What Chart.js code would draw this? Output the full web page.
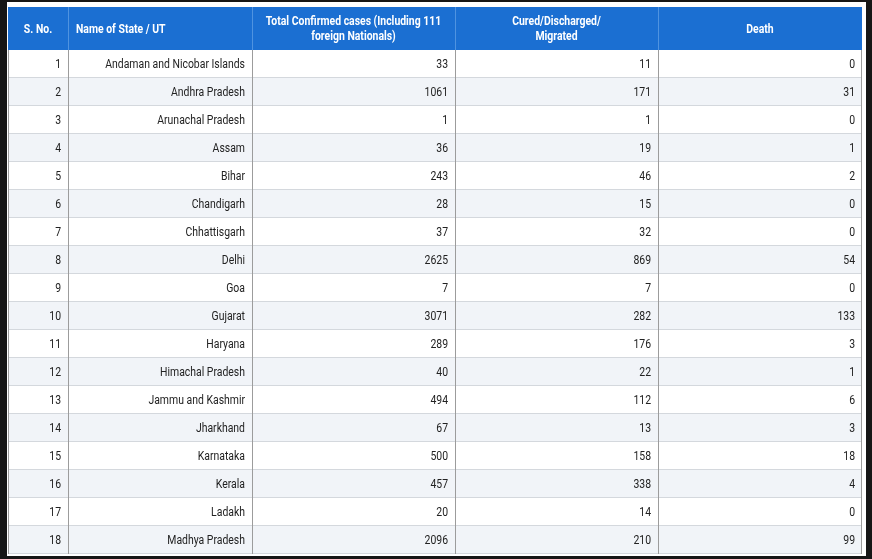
<!DOCTYPE html>
<html>
<head>
<meta charset="utf-8">
<script src="https://cdn.jsdelivr.net/npm/chart.js@4.4.0/dist/chart.umd.min.js"></script>
<style>
    html, body { margin: 0; padding: 0; background: #161616; }
    #wrap { width: 872px; height: 559px; }
</style>
</head>
<body>
<div id="wrap"><canvas id="stateTable" width="872" height="559"></canvas></div>
<script>
(function () {
    'use strict';

    // table content
    const headers = [
        ['S. No.'],
        ['Name of State / UT'],
        ['Total Confirmed cases (Including 111', 'foreign Nationals)'],
        ['Cured/Discharged/', 'Migrated'],
        ['Death']
    ];
    const serials = [1, 2, 3, 4, 5, 6, 7, 8, 9, 10, 11, 12, 13, 14, 15, 16, 17, 18];
    const states = [
        'Andaman and Nicobar Islands', 'Andhra Pradesh', 'Arunachal Pradesh', 'Assam',
        'Bihar', 'Chandigarh', 'Chhattisgarh', 'Delhi', 'Goa', 'Gujarat', 'Haryana',
        'Himachal Pradesh', 'Jammu and Kashmir', 'Jharkhand', 'Karnataka', 'Kerala',
        'Ladakh', 'Madhya Pradesh'
    ];
    const confirmed = [33, 1061, 1, 36, 243, 28, 37, 2625, 7, 3071, 289, 40, 494, 67, 500, 457, 20, 2096];
    const cured = [11, 171, 1, 19, 46, 15, 32, 869, 7, 282, 176, 22, 112, 13, 158, 338, 14, 210];
    const deaths = [0, 31, 0, 1, 2, 0, 0, 54, 0, 133, 3, 1, 6, 3, 18, 4, 0, 99];

    // layout (table units)
    const colWidths = [60, 184, 203, 203, 204];
    const headerHeight = 43;
    const rowHeight = 28;
    const textSquash = 0.87;

    const columns = [serials, states, confirmed, cured, deaths];
    const colEdges = [0];
    colWidths.forEach(w => colEdges.push(colEdges[colEdges.length - 1] + w));
    const tableWidth = colEdges[colEdges.length - 1];
    const tableHeight = headerHeight + rowHeight * states.length;

    function drawText(ctx, text, x, y, align) {
        ctx.save();
        ctx.translate(x, y);
        ctx.scale(textSquash, 1);
        ctx.textAlign = align;
        ctx.fillText(text, 0, 0);
        ctx.restore();
    }

    const tablePlugin = {
        id: 'tablePlugin',
        beforeDraw(chart) {
            const ctx = chart.ctx;
            ctx.save();
            ctx.fillStyle = '#161616';
            ctx.fillRect(0, 0, chart.width, chart.height);
            ctx.fillStyle = '#ffffff';
            ctx.fillRect(7, 2, 859, 554);
            ctx.restore();
        },
        afterDraw(chart) {
            const ctx = chart.ctx;
            const xs = chart.scales.x;
            const ys = chart.scales.y;
            const px = v => Math.round(xs.getPixelForValue(v));
            const py = v => Math.round(ys.getPixelForValue(v));
            const left = px(0), right = px(tableWidth);
            const top = py(0), headBottom = py(headerHeight), bottom = py(tableHeight);

            ctx.save();

            // header
            ctx.fillStyle = '#1b6fd2';
            ctx.fillRect(left, top, right - left, headBottom - top);
            ctx.fillStyle = '#ffffff';
            ctx.font = 'bold 12px Roboto, "Liberation Sans", sans-serif';
            ctx.textBaseline = 'middle';
            headers.forEach((lines, c) => {
                const x0 = px(colEdges[c]), x1 = px(colEdges[c + 1]);
                const midY = (top + headBottom) / 2 + 1;
                lines.forEach((line, i) => {
                    const y = midY + (i - (lines.length - 1) / 2) * 15;
                    if (c === 1) {
                        drawText(ctx, line, x0 + 8, y, 'left');
                    } else {
                        drawText(ctx, line, (x0 + x1) / 2, y, 'center');
                    }
                });
            });
            ctx.strokeStyle = '#4f93e0';
            ctx.lineWidth = 1;
            for (let c = 1; c < colEdges.length - 1; c++) {
                const x = px(colEdges[c]) + 0.5;
                ctx.beginPath();
                ctx.moveTo(x, top);
                ctx.lineTo(x, headBottom);
                ctx.stroke();
            }

            // body rows
            ctx.font = '12px Roboto, "Liberation Sans", sans-serif';
            for (let r = 0; r < states.length; r++) {
                const y0 = py(headerHeight + r * rowHeight);
                const y1 = py(headerHeight + (r + 1) * rowHeight);
                ctx.fillStyle = r % 2 === 0 ? '#ffffff' : '#f1f4f8';
                ctx.fillRect(left, y0, right - left, y1 - y0);
                ctx.fillStyle = '#222222';
                columns.forEach((col, c) => {
                    drawText(ctx, String(col[r]), px(colEdges[c + 1]) - 7, (y0 + y1) / 2 + 1, 'right');
                });
                ctx.strokeStyle = '#d4d8dd';
                ctx.beginPath();
                ctx.moveTo(left, y1 - 0.5);
                ctx.lineTo(right, y1 - 0.5);
                ctx.stroke();
            }

            // body vertical lines
            ctx.strokeStyle = '#9c9c9c';
            for (let c = 0; c < colEdges.length; c++) {
                let x = px(colEdges[c]) + 0.5;
                if (c === colEdges.length - 1) x -= 1;
                ctx.beginPath();
                ctx.moveTo(x, headBottom);
                ctx.lineTo(x, bottom);
                ctx.stroke();
            }

            ctx.restore();
        }
    };

    new Chart(document.getElementById('stateTable').getContext('2d'), {
        type: 'scatter',
        data: { datasets: [{ data: [], pointRadius: 0 }] },
        options: {
            responsive: false,
            animation: false,
            events: [],
            layout: { padding: { left: 8, top: 7, right: 10, bottom: 5 } },
            plugins: { legend: { display: false }, tooltip: { enabled: false } },
            scales: {
                x: { type: 'linear', min: 0, max: tableWidth, display: false },
                y: { type: 'linear', min: 0, max: tableHeight, reverse: true, display: false }
            }
        },
        plugins: [tablePlugin]
    });
})();
</script>
</body>
</html>
